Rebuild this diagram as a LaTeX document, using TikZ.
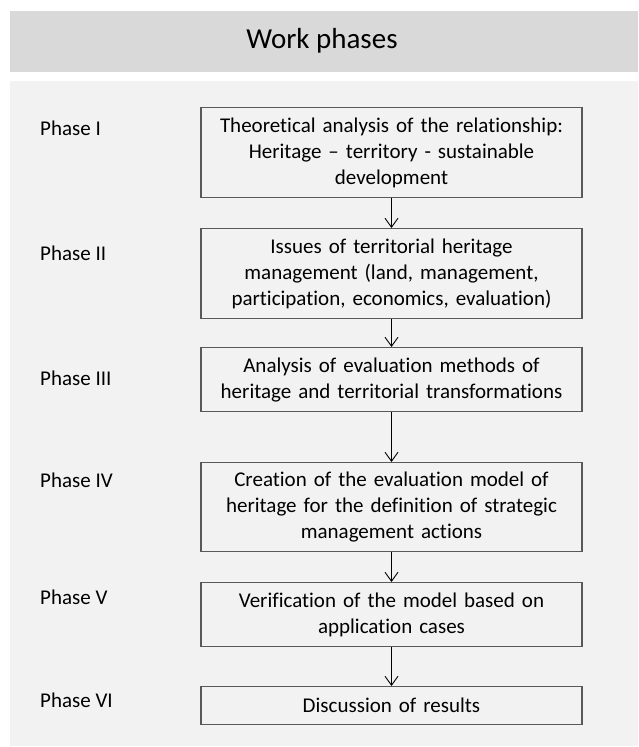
\documentclass[tikz,border=0pt]{standalone}
\usepackage{fontspec}
\setmainfont{Carlito}[Ligatures=NoCommon]
\usetikzlibrary{arrows.meta}
\definecolor{headgray}{HTML}{D9D9D9}
\definecolor{panelgray}{HTML}{F2F2F2}
\definecolor{framegray}{HTML}{595959}
\tikzset{
  x=1pt, y=1pt,
  phasebox/.style={draw=framegray, line width=1.3pt, fill=panelgray,
    align=center, text width=370pt, inner sep=5.5pt, anchor=north,
    font=\fontsize{21}{26.2}\selectfont},
  phaselabel/.style={anchor=west, inner sep=0pt, font=\fontsize{21}{26}\selectfont},
  flow/.style={draw=black, line width=0.9pt, -{Straight Barb[length=9pt,width=13pt,line width=0.9pt]}},
}
\begin{document}
\begin{tikzpicture}
  % canvas
  \useasboundingbox (0,0) rectangle (638,-747);
  \fill[white] (0,0) rectangle (638,-747);
  % title band and panel
  \fill[headgray] (10,-11) rectangle (638,-72);
  \fill[panelgray] (10,-81) rectangle (638,-746);
  \node[font=\fontsize{29}{33}\selectfont] (title) at (322,-41) {Work phases};

  % process steps
  \node[phasebox, minimum height=90pt] (s1) at (391.5,-107)
    {Theoretical analysis of the relationship:\\Heritage -- territory - sustainable\\development};
  \node[phasebox, minimum height=90pt] (s2) at (391.5,-228)
    {Issues of territorial heritage\\management (land, management,\\participation, economics, evaluation)};
  \node[phasebox, minimum height=64pt] (s3) at (391.5,-347)
    {Analysis of evaluation methods of\\heritage and territorial transformations};
  \node[phasebox, minimum height=89pt] (s4) at (391.5,-462)
    {Creation of the evaluation model of\\heritage for the definition of strategic\\management actions};
  \node[phasebox, minimum height=64pt] (s5) at (391.5,-582)
    {Verification of the model based on\\application cases};
  \node[phasebox, minimum height=38pt] (s6) at (391.5,-686)
    {Discussion of results};

  % phase labels
  \node[phaselabel] (p1) at (40,-128) {Phase I};
  \node[phaselabel] (p2) at (40,-253) {Phase II};
  \node[phaselabel] (p3) at (40,-378) {Phase III};
  \node[phaselabel] (p4) at (40,-480) {Phase IV};
  \node[phaselabel] (p5) at (40,-597) {Phase V};
  \node[phaselabel] (p6) at (40,-700) {Phase VI};

  % connectors
  \draw[flow] (s1.south) -- (s2.north);
  \draw[flow] (s2.south) -- (s3.north);
  \draw[flow] (s3.south) -- (s4.north);
  \draw[flow] (s4.south) -- (s5.north);
  \draw[flow] (s5.south) -- (s6.north);
\end{tikzpicture}
\end{document}
